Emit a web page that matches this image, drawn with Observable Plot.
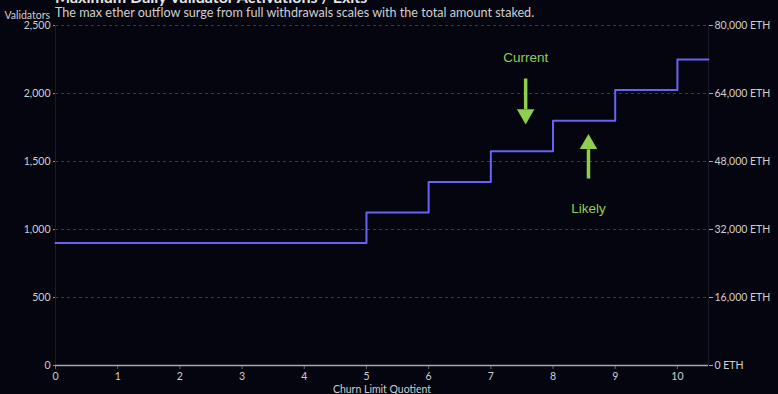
<!DOCTYPE html>
<html>
<head>
<meta charset="utf-8">
<script src="https://cdn.jsdelivr.net/npm/d3@7"></script>
<script src="https://cdn.jsdelivr.net/npm/@observablehq/plot@0.6"></script>
<style>
  html, body { margin: 0; padding: 0; background: #05050f; }
  #wrap { position: relative; width: 778px; height: 394px; overflow: hidden; background: #05050f; font-family: Lato, "Open Sans", sans-serif; }
  #title { position: absolute; left: 55px; top: -13px; font-size: 16px; font-weight: bold; color: #e6e6e6; white-space: nowrap; }
  #subtitle { position: absolute; left: 55px; top: 5px; font-size: 12.6px; color: #d0d0d0; white-space: nowrap; }
  #ylab { position: absolute; right: 728px; top: 9px; font-size: 10.5px; color: #cfcfcf; white-space: nowrap; }
  #chart { position: absolute; left: 0; top: 0; }
</style>
</head>
<body>
<div id="wrap">
  <div id="chart"></div>
  <div id="title">Maximum Daily Validator Activations / Exits</div>
  <div id="subtitle">The max ether outflow surge from full withdrawals scales with the total amount staked.</div>
  <div id="ylab">Validators</div>
</div>
<script>
// Data
const churnQuotient = [0, 5, 6, 7, 8, 9, 10, 10.5];
const dailyValidators = [900, 1125, 1350, 1575, 1800, 2025, 2250, 2250];
const yTicks = [0, 500, 1000, 1500, 2000, 2500];
const xTicks = [0, 1, 2, 3, 4, 5, 6, 7, 8, 9, 10];
const ethPerValidator = 32;
const annotationLabels = ["Current", "Likely"];
const annotationX = [7.56, 8.57];
const annotationTextY = [2260, 1155];
const arrowTailY = [2110, 1375];
const arrowTipY = [1800, 1675];

const series = churnQuotient.map((q, i) => ({q, v: dailyValidators[i]}));
const notes = annotationLabels.map((label, i) => ({
  label, x: annotationX[i], ty: annotationTextY[i], tail: arrowTailY[i], tip: arrowTipY[i],
  dir: arrowTipY[i] < arrowTailY[i] ? -1 : 1
}));
const green = "#8fcf4f";
const headLen = 85; // in data units along y
const shafts = notes.map(n => ({x: n.x, y1: n.tail, y2: n.tip + (n.dir < 0 ? headLen : -headLen)}));
const heads = notes.map(n => ({x: n.x, y: n.tip + (n.dir < 0 ? headLen * 0.55 : -headLen * 0.55), rot: n.dir < 0 ? 180 : 0}));

const chart = Plot.plot({
  width: 778,
  height: 394,
  marginTop: 25,
  marginBottom: 29,
  marginLeft: 55,
  marginRight: 70,
  style: {background: "#05050f", color: "#cfcfcf", fontFamily: "Lato, 'Open Sans', sans-serif", fontSize: "10.5px"},
  x: {domain: [0, 10.5]},
  y: {domain: [0, 2500]},
  marks: [
    Plot.gridY(yTicks.filter(d => d > 0), {stroke: "#3a3a48", strokeOpacity: 1, strokeDasharray: "3,3"}),
    Plot.ruleX([0, 10.5], {stroke: "#1c1c28"}),
    Plot.axisY(yTicks, {anchor: "left", tickSize: 2, tickPadding: 3, tickFormat: d3.format(","), label: null, stroke: "#888"}),
    Plot.axisY(yTicks, {anchor: "right", tickSize: 4, tickPadding: 2, tickFormat: d => d3.format(",")(d * ethPerValidator) + " ETH", label: null, stroke: "#aaa"}),
    Plot.axisX(xTicks, {tickSize: 4, tickPadding: 3, label: "Churn Limit Quotient", labelAnchor: "center", labelArrow: "none", labelOffset: 27, stroke: "#666", fill: "#cfcfcf"}),
    Plot.ruleY([0], {stroke: "#a8a8b0", strokeWidth: 1.5}),
    Plot.line(series, {x: "q", y: "v", curve: "step-after", stroke: "#6a62f5", strokeWidth: 2}),
    Plot.link(shafts, {x1: "x", x2: "x", y1: "y1", y2: "y2", stroke: green, strokeWidth: 3.5}),
    Plot.dot(heads, {x: "x", y: "y", symbol: "triangle", r: 6.5, fill: green, stroke: "none", rotate: "rot"}),
    Plot.text(notes, {x: "x", y: "ty", text: "label", fill: green, fontSize: 13.5, fontFamily: "'Liberation Sans', Arial, sans-serif"})
  ]
});
document.getElementById("chart").appendChild(chart);
</script>
</body>
</html>
